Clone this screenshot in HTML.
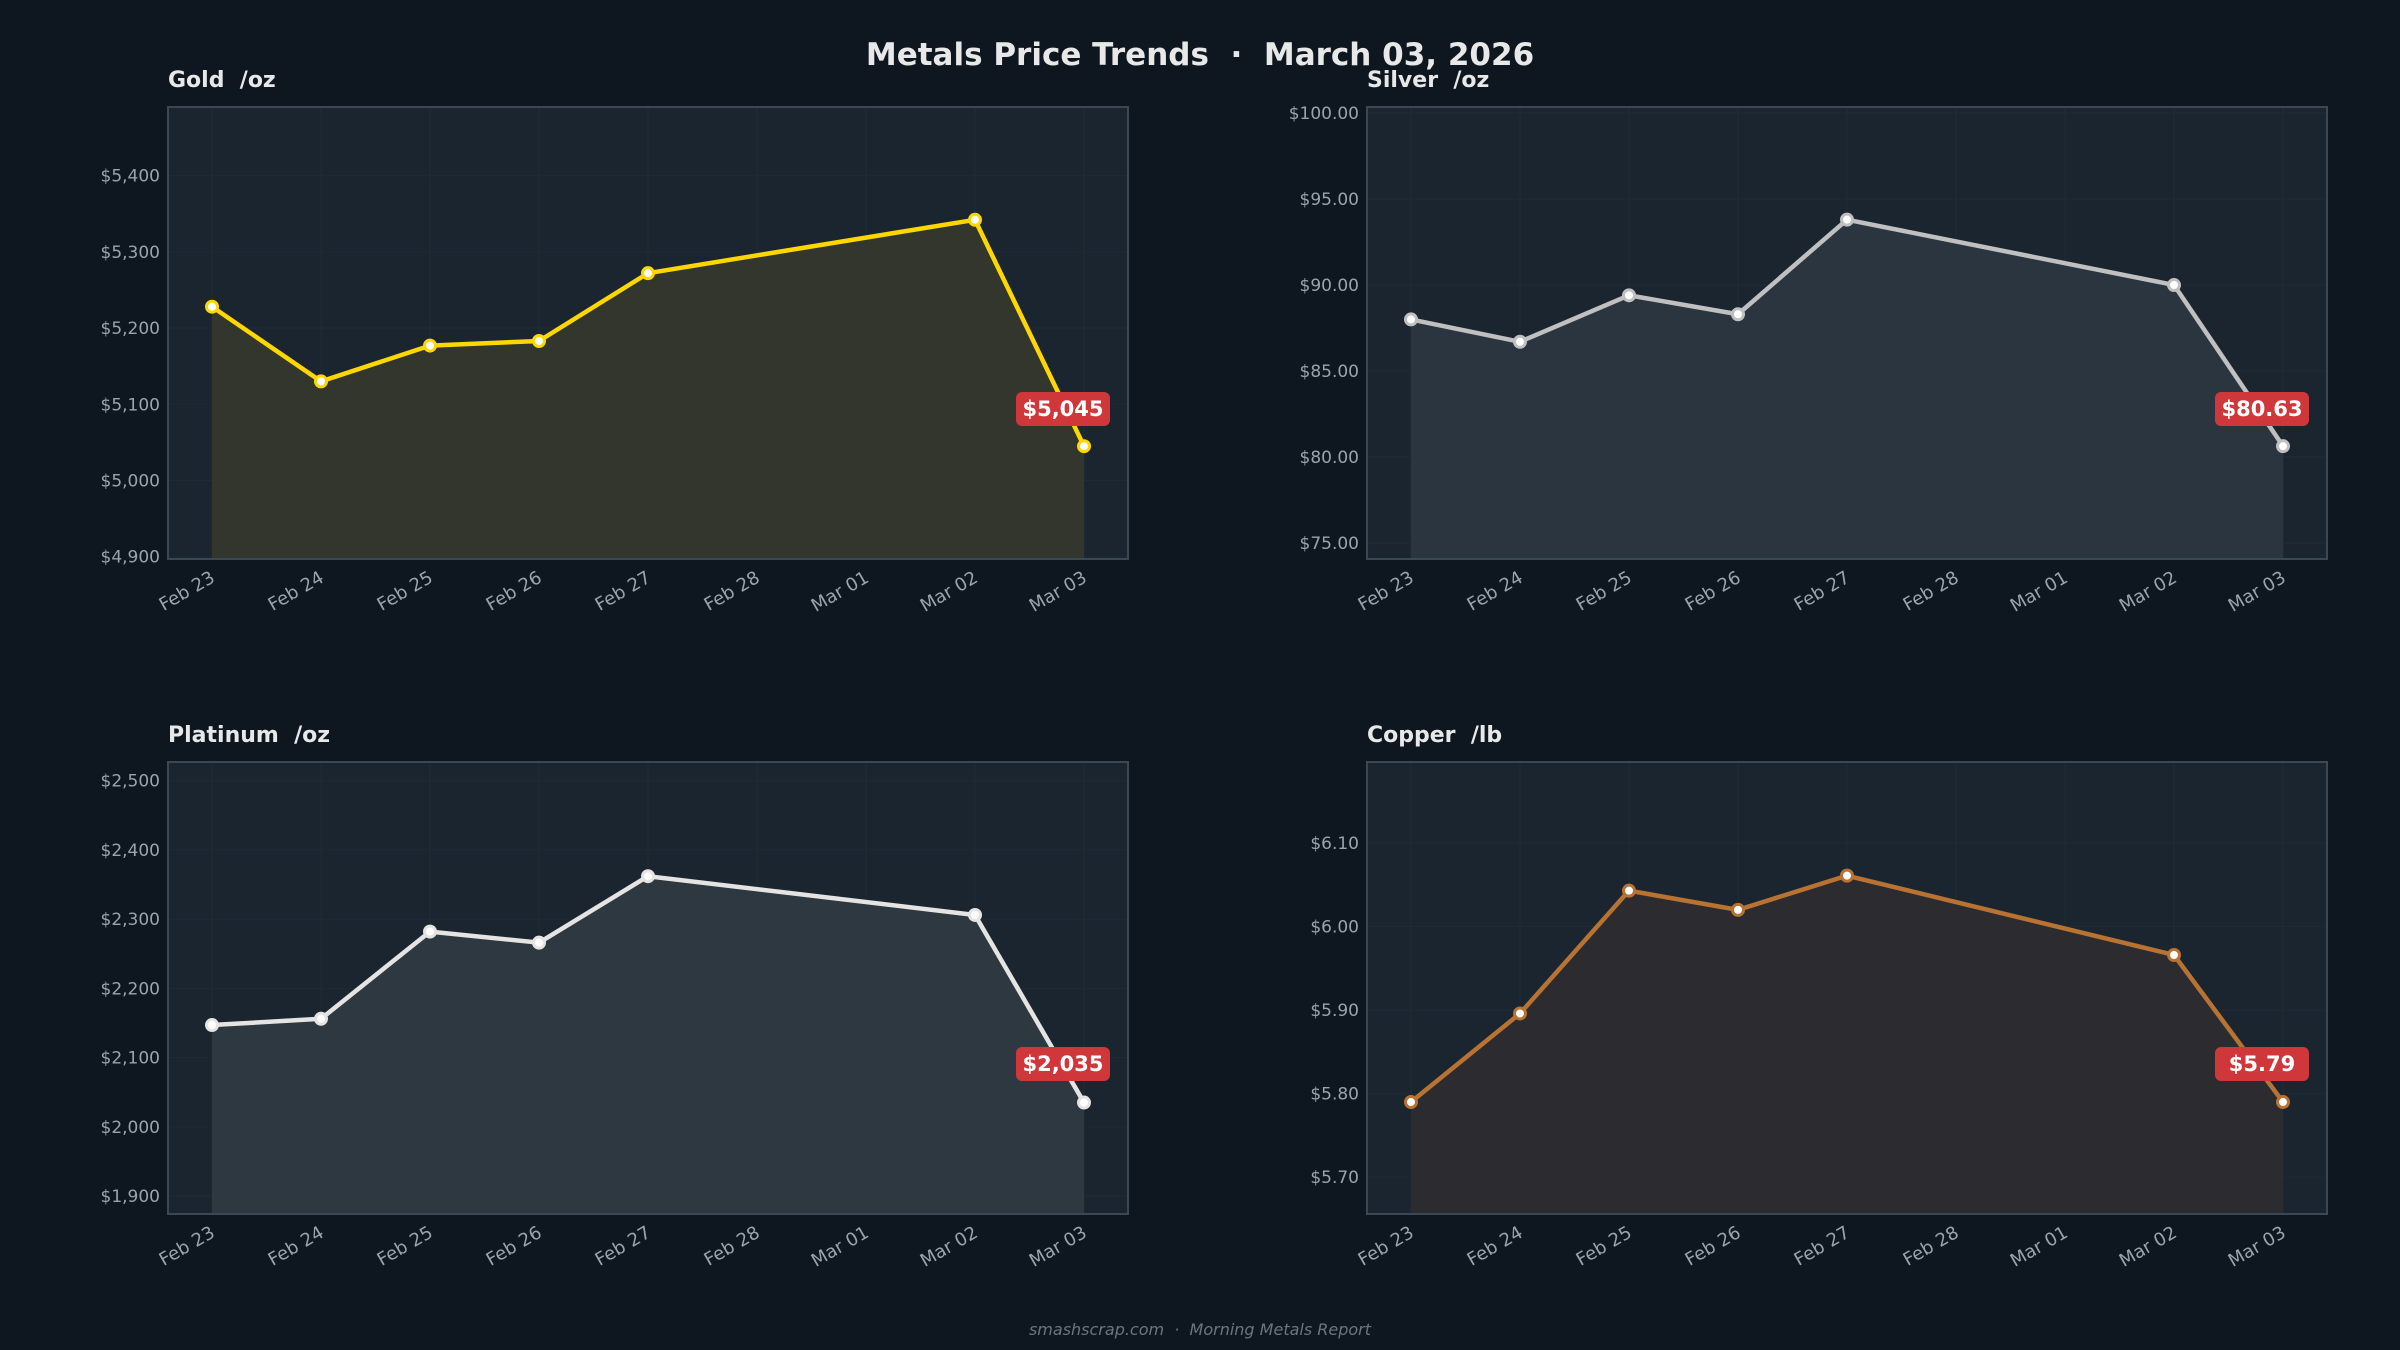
<!DOCTYPE html>
<html><head><meta charset="utf-8"><style>
html,body{margin:0;padding:0;background:#0e1720;}
svg{display:block;}
text{font-family:"DejaVu Sans","Liberation Sans",sans-serif;white-space:pre;}
</style></head><body>
<svg id="s" width="2400" height="1350" xmlns="http://www.w3.org/2000/svg" xml:space="preserve">
<rect width="2400" height="1350" fill="#0e1720"/>
<text x="1200" y="65" text-anchor="middle" font-size="31" font-weight="bold" fill="#e8e8e8">Metals Price Trends  ·  March 03, 2026</text>
<text x="1200" y="1335" text-anchor="middle" font-size="16" font-style="italic" fill="#6b7580">smashscrap.com  ·  Morning Metals Report</text>
</svg>
<script>
const dates=["Feb 23","Feb 24","Feb 25","Feb 26","Feb 27","Feb 28","Mar 01","Mar 02","Mar 03"];
const idx=[0,1,2,3,4,7,8];
const panels=[
{t:"Gold  /oz",x:168,y:107,lo:4897,hi:5490,ticks:[4900,5000,5100,5200,5300,5400],fmt:v=>"$"+v.toLocaleString("en-US"),
 v:[5228,5130,5177,5183,5272,5342,5045],c:"#ffd700",fill:"#33362c",lab:"$5,045"},
{t:"Silver  /oz",x:1367,y:107,lo:74.07,hi:100.35,ticks:[75,80,85,90,95,100],fmt:v=>"$"+v.toFixed(2),
 v:[88.0,86.7,89.4,88.3,93.8,90.0,80.63],c:"#c0c0c0",fill:"#2a353f",lab:"$80.63"},
{t:"Platinum  /oz",x:168,y:762,lo:1874,hi:2527,ticks:[1900,2000,2100,2200,2300,2400,2500],fmt:v=>"$"+v.toLocaleString("en-US"),
 v:[2147,2156,2282,2266,2362,2306,2035],c:"#e5e4e2",fill:"#2d3840",lab:"$2,035"},
{t:"Copper  /lb",x:1367,y:762,lo:5.656,hi:6.197,ticks:[5.7,5.8,5.9,6.0,6.1],fmt:v=>"$"+v.toFixed(2),
 v:[5.79,5.896,6.043,6.02,6.061,5.966,5.79],c:"#b87333",fill:"#2c2c30",lab:"$5.79"}
];
let h="";
const W=960,H=452;
for(const p of panels){
 const X=i=>p.x+44+i*109, Y=v=>p.y+H-(v-p.lo)/(p.hi-p.lo)*H;
 h+=`<text x="${p.x}" y="${p.y-20}" font-size="22" font-weight="bold" fill="#e8e8e8">${p.t}</text>`;
 h+=`<rect x="${p.x}" y="${p.y}" width="${W}" height="${H}" fill="#1b2530"/>`;
 for(let i=0;i<9;i++){h+=`<line x1="${X(i)}" y1="${p.y}" x2="${X(i)}" y2="${p.y+H}" stroke="#1f2a34" stroke-width="1"/>`;
  h+=`<text transform="translate(${X(i)+4},${p.y+H+22}) rotate(-30)" text-anchor="end" font-size="18" fill="#9aa4ae">${dates[i]}</text>`;}
 for(const t of p.ticks){const y=Y(t);h+=`<line x1="${p.x}" y1="${y}" x2="${p.x+W}" y2="${y}" stroke="#1f2a34" stroke-width="1"/>`;
  h+=`<text x="${p.x-8}" y="${y+6}" text-anchor="end" font-size="17" fill="#9aa4ae">${p.fmt(t)}</text>`;}
 const pts=idx.map((d,k)=>[X(d),Y(p.v[k])]);
 const ps=pts.map(q=>q.join(",")).join(" ");
 h+=`<polygon points="${X(0)},${p.y+H} ${ps} ${X(8)},${p.y+H}" fill="${p.fill}"/>`;
 h+=`<polyline points="${ps}" fill="none" stroke="${p.c}" stroke-width="4.5" stroke-linejoin="round"/>`;
 for(const q of pts)h+=`<circle cx="${q[0]}" cy="${q[1]}" r="5.5" fill="#fff" stroke="${p.c}" stroke-width="3"/>`;
 h+=`<rect x="${p.x}" y="${p.y}" width="${W}" height="${H}" fill="none" stroke="#3a4856" stroke-width="2"/>`;
 const cx=X(8)-21, cy=p.y+302;
 h+=`<rect x="${cx-47}" y="${cy-17}" width="94" height="34" rx="6" fill="#d0373a"/>`;
 h+=`<text x="${cx}" y="${cy+7}" text-anchor="middle" font-size="21" font-weight="bold" fill="#fff">${p.lab}</text>`;
}
document.getElementById("s").insertAdjacentHTML("beforeend",h);
</script>
</body></html>
